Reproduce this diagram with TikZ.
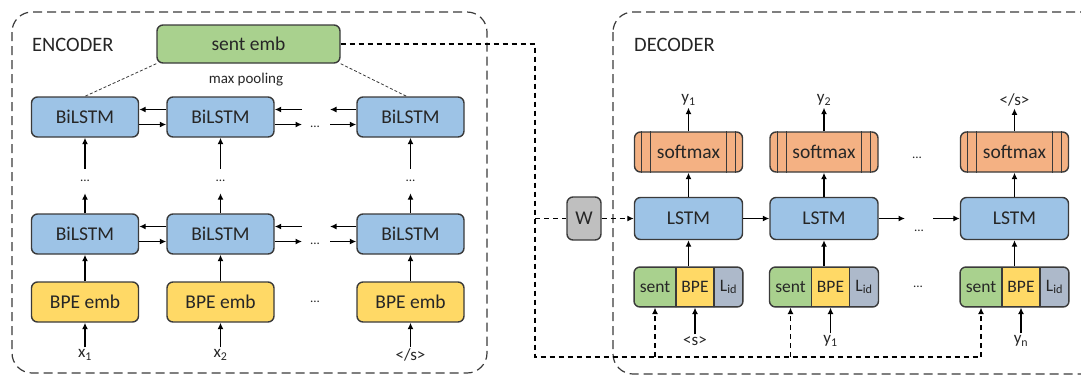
\documentclass[tikz,border=0pt]{standalone}
\usepackage{fontspec}
\setmainfont{Carlito}
\usetikzlibrary{arrows.meta}
\definecolor{embgreen}{HTML}{A9D18E}
\definecolor{lstmblue}{HTML}{9DC3E6}
\definecolor{bpeyellow}{HTML}{FFD966}
\definecolor{softorange}{HTML}{F4B183}
\definecolor{lidgray}{HTML}{ADB9CA}
\definecolor{wgray}{HTML}{BFBFBF}
\definecolor{edge}{HTML}{3A3A3A}
\definecolor{ink}{HTML}{262626}

\begin{document}
\begin{tikzpicture}[x=1pt,y=-1pt,
  box/.style={draw=edge,line width=1.4pt,rounded corners=6pt,inner sep=0pt,text=ink,font=\fontsize{19.5}{21}\selectfont},
  part/.style={draw=edge,line width=1.1pt,inner sep=0pt,minimum height=40pt,text=ink,font=\fontsize{17.5}{19}\selectfont},
  frame/.style={draw=edge,line width=1.2pt,dash pattern=on 9pt off 5pt,rounded corners=20pt},
  arr/.style={-{Latex[length=6.5pt,width=6pt]},line width=1.3pt},
  dsh/.style={line width=1.3pt,dash pattern=on 5pt off 4pt},
  lbl/.style={inner sep=2pt,text=ink,font=\fontsize{17}{19}\selectfont},
  dots/.style={inner sep=0pt,text=ink,font=\fontsize{13}{14}\selectfont}]
\useasboundingbox (0,0) rectangle (1081,376);

% frames
\draw[frame] (12,12) rectangle (487,373);
\draw[frame] (613,12) rectangle (1100,374);
\node[anchor=west,inner sep=0pt,text=ink,font=\fontsize{20.5}{22}\selectfont] (enc) at (32,45) {ENCODER};
\node[anchor=west,inner sep=0pt,text=ink,font=\fontsize{20.5}{22}\selectfont] (dec) at (634,45) {DECODER};

% encoder
\node[box,fill=embgreen,minimum width=183pt,minimum height=38pt] (sentemb) at (248.5,44) {sent emb};
\node[text=ink,font=\fontsize{15}{17}\selectfont] (pool) at (246,80) {max pooling};
\foreach \i/\cx/\xin in {1/85/{x\textsubscript{1}},2/220.5/{x\textsubscript{2}},3/410.5/{</s>}} {
  \node[box,fill=lstmblue,minimum width=107pt,minimum height=40pt] (top\i) at (\cx,117) {BiLSTM};
  \node[box,fill=lstmblue,minimum width=107pt,minimum height=40pt] (bot\i) at (\cx,234) {BiLSTM};
  \node[box,fill=bpeyellow,minimum width=107pt,minimum height=40pt] (bpe\i) at (\cx,302) {BPE emb};
  \node[dots,minimum height=24pt] (vd\i) at (\cx,181) {...};
  \node[lbl] (x\i) at (\cx,355) {\xin};
  \draw[arr] (vd\i) -- (top\i);
  \draw[arr] (bot\i) -- (vd\i);
  \draw[arr] (bpe\i) -- (bot\i);
  \draw[arr] (x\i) -- (bpe\i);
}
\draw[dash pattern=on 3pt off 2pt,line width=0.8pt,edge] (sentemb.south west) -- (top1.north);
\draw[dash pattern=on 3pt off 2pt,line width=0.8pt,edge] (sentemb.south east) -- ([xshift=-4pt]top3.north);
\foreach \r/\row/\ry in {1/top/117,2/bot/234} {
  \coordinate (gl\r) at (302,\ry);
  \coordinate (gr\r) at (330,\ry);
  \node[dots] (hd\r) at (315,{\ry+10}) {...};
  \draw[arr] ([yshift=7.5pt]\row2.west) -- ([yshift=7.5pt]\row1.east);
  \draw[arr] ([yshift=-7.5pt]\row1.east) -- ([yshift=-7.5pt]\row2.west);
  \draw[arr] ([yshift=7.5pt]gl\r) -- ([yshift=7.5pt]\row2.east);
  \draw[arr] ([yshift=-7.5pt]\row2.east) -- ([yshift=-7.5pt]gl\r);
  \draw[arr] ([yshift=7.5pt]\row3.west) -- ([yshift=7.5pt]gr\r);
  \draw[arr] ([yshift=-7.5pt]gr\r) -- ([yshift=-7.5pt]\row3.west);
}
\node[dots] (bd) at (315,302) {...};

% decoder
\foreach \i/\cx/\yout/\yin in {1/688.5/{y\textsubscript{1}}/{<s>},2/824/{y\textsubscript{2}}/{y\textsubscript{1}},3/1014.5/{</s>}/{y\textsubscript{n}}} {
  \node[box,fill=softorange,minimum width=108pt,minimum height=40pt] (sm\i) at (\cx,152) {softmax};
  \foreach \d in {8,17} {
    \draw[edge,line width=1.1pt] ([xshift=\d pt]sm\i.north west) -- ([xshift=\d pt]sm\i.south west);
    \draw[edge,line width=1.1pt] ([xshift=-\d pt]sm\i.north east) -- ([xshift=-\d pt]sm\i.south east);
  }
  \node[box,fill=lstmblue,minimum width=108pt,minimum height=42pt] (ls\i) at (\cx,218.5) {LSTM};
  \begin{scope}
    \clip[rounded corners=6pt] ({\cx-54.5},267) rectangle ({\cx+54.5},307);
    \node[part,fill=embgreen,minimum width=42pt] (se\i) at ({\cx-33.5},287) {sent};
    \node[part,fill=bpeyellow,minimum width=38pt] (bp\i) at ({\cx+6.5},287) {BPE};
    \node[part,fill=lidgray,minimum width=29pt] (li\i) at ({\cx+40},287) {L\textsubscript{id}};
  \end{scope}
  \node[box,minimum width=109pt,minimum height=40pt] (in\i) at (\cx,287) {};
  \node[lbl] (yo\i) at (\cx,100) {\yout};
  \node[lbl] (yi\i) at ({\cx+6.5},341) {\yin};
  \draw[arr] (sm\i) -- (yo\i);
  \draw[arr] (ls\i) -- (sm\i);
  \draw[arr] (in\i) -- (ls\i);
  \draw[arr] (yi\i) -- (bp\i);
}
\node[dots] (sd) at (917,158) {...};
\node[dots] (ld) at (919,231) {...};
\node[dots] (id) at (918,287) {...};
\coordinate (lgo) at (905,218.5);
\coordinate (lcome) at (933,218.5);
\draw[arr] (ls1) -- (ls2);
\draw[arr] (ls2) -- (lgo);
\draw[arr] (lcome) -- (ls3);

% sentence embedding to decoder
\node[box,fill=wgray,minimum width=34pt,minimum height=43pt] (w) at (584,218.5) {W};
\coordinate (dturn) at (535,44);
\coordinate (dbot) at (535,357);
\draw[dsh] (sentemb) -- (dturn) -- (dbot) -- (se3.south |- dbot);
\draw[dsh] (dturn |- w) -- (w);
\draw[dsh,-{Latex[length=6.5pt,width=6pt]}] (w) -- (ls1);
\foreach \i in {1,2,3}
  \draw[dsh,-{Latex[length=6.5pt,width=6pt]}] (se\i |- dbot) -- (se\i);
\end{tikzpicture}
\end{document}
